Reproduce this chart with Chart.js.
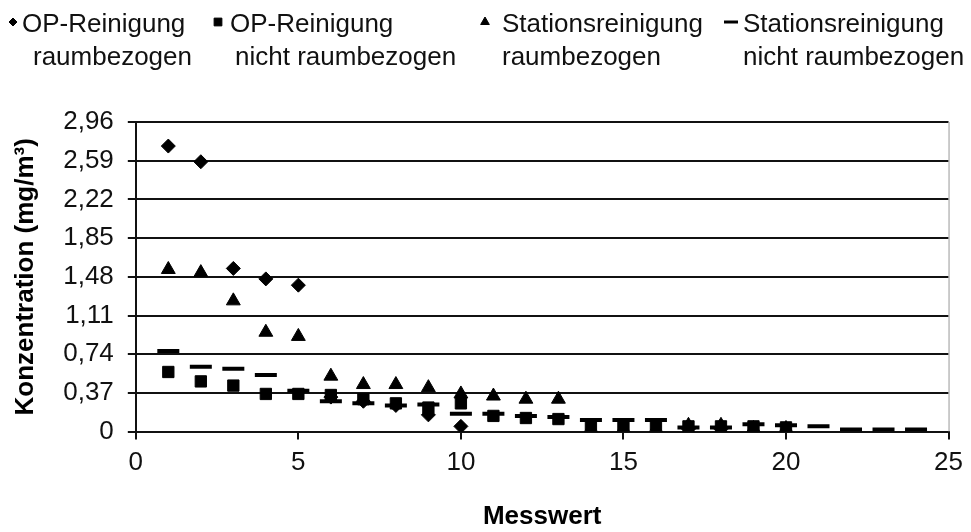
<!DOCTYPE html>
<html>
<head>
<meta charset="utf-8">
<script src="https://cdn.jsdelivr.net/npm/chart.js@4.4.1/dist/chart.umd.min.js"></script>
<style>
  html, body { margin: 0; padding: 0; background: #fff; }
  #wrap { width: 971px; height: 532px; }
</style>
</head>
<body>
<div id="wrap"><canvas id="myChart"></canvas></div>
<script>
// Messwerte (x) und Konzentrationen (mg/m³)
var seriesNames = [
    ['OP-Reinigung', 'raumbezogen'],
    ['OP-Reinigung', 'nicht raumbezogen'],
    ['Stationsreinigung', 'raumbezogen'],
    ['Stationsreinigung', 'nicht raumbezogen']
];

var opRaumX = [1, 2, 3, 4, 5, 6, 7, 8, 9, 10];
var opRaumY = [2.73, 2.58, 1.56, 1.46, 1.40, 0.33, 0.29, 0.25, 0.16, 0.05];

var opNichtX = [1, 2, 3, 4, 5, 6, 7, 8, 9, 10, 11, 12, 13, 14, 15, 16, 17, 18, 19, 20];
var opNichtY = [0.57, 0.48, 0.44, 0.36, 0.36, 0.35, 0.31, 0.27, 0.23, 0.27, 0.15, 0.13, 0.12, 0.07, 0.07, 0.07, 0.05, 0.05, 0.05, 0.04];

var stRaumX = [1, 2, 3, 4, 5, 6, 7, 8, 9, 10, 11, 12, 13, 14, 15, 16, 17, 18, 19, 20];
var stRaumY = [1.55, 1.52, 1.25, 0.95, 0.91, 0.53, 0.45, 0.45, 0.42, 0.36, 0.34, 0.31, 0.31, 0.03, 0.03, 0.03, 0.06, 0.06, 0.03, 0.03];

var stNichtX = [1, 2, 3, 4, 5, 6, 7, 8, 9, 10, 11, 12, 13, 14, 15, 16, 17, 18, 19, 20, 21, 22, 23, 24];
var stNichtY = [0.77, 0.62, 0.60, 0.54, 0.39, 0.29, 0.27, 0.25, 0.26, 0.17, 0.17, 0.15, 0.14, 0.11, 0.11, 0.11, 0.04, 0.04, 0.07, 0.06, 0.05, 0.02, 0.02, 0.02];

var yTicks = [0, 0.37, 0.74, 1.11, 1.48, 1.85, 2.22, 2.59, 2.96];
var yTickLabels = ['0', '0,37', '0,74', '1,11', '1,48', '1,85', '2,22', '2,59', '2,96'];
var xTicks = [0, 5, 10, 15, 20, 25];

function toPoints(xs, ys) {
    return xs.map(function(x, i) { return { x: x, y: ys[i] }; });
}

const FONT = "'Liberation Sans', Arial, sans-serif";
const INK = '#111';

// Legende oben, zweizeilig, mit eigenen Symbolen
const legendPlugin = {
    id: 'twoLineLegend',
    afterDraw: function(chart) {
        const ctx = chart.ctx;
        const items = [
            { sym: { pointStyle: 'rectRot', radius: 4, borderWidth: 1 }, sx: 13, tx: [22, 33] },
            { sym: { pointStyle: 'rect', radius: 5.5, borderWidth: 1 }, sx: 218, tx: [230, 235] },
            { sym: { pointStyle: 'triangle', radius: 5, borderWidth: 1 }, sx: 485, tx: [502, 502] },
            { sym: { pointStyle: 'line', radius: 7, borderWidth: 3 }, sx: 731, tx: [743, 743] }
        ];
        ctx.save();
        ctx.font = '26px ' + FONT;
        ctx.textBaseline = 'alphabetic';
        items.forEach(function(it, i) {
            ctx.fillStyle = '#000';
            ctx.strokeStyle = '#000';
            ctx.lineWidth = it.sym.borderWidth;
            Chart.helpers.drawPoint(ctx, it.sym, it.sx, 22);
            ctx.fillStyle = INK;
            ctx.fillText(seriesNames[i][0], it.tx[0], 32);
            ctx.fillText(seriesNames[i][1], it.tx[1], 65);
        });
        ctx.restore();
    }
};

// rechter Rahmen der Zeichenfläche
const borderPlugin = {
    id: 'rightBorder',
    beforeDatasetsDraw: function(chart) {
        const a = chart.chartArea;
        const ctx = chart.ctx;
        ctx.save();
        ctx.strokeStyle = '#999';
        ctx.lineWidth = 1;
        ctx.beginPath();
        ctx.moveTo(a.right + 0.5, a.top);
        ctx.lineTo(a.right + 0.5, a.bottom);
        ctx.stroke();
        ctx.restore();
    }
};

const ctx = document.getElementById('myChart').getContext('2d');
const myChart = new Chart(ctx, {
    type: 'scatter',
    data: {
        datasets: [
            {
                label: seriesNames[0].join(' '),
                data: toPoints(opRaumX, opRaumY),
                pointStyle: 'rectRot',
                pointRadius: 7,
                backgroundColor: '#000',
                borderColor: '#000',
                borderWidth: 1
            },
            {
                label: seriesNames[1].join(' '),
                data: toPoints(opNichtX, opNichtY),
                pointStyle: 'rect',
                pointRadius: 8,
                backgroundColor: '#000',
                borderColor: '#000',
                borderWidth: 1
            },
            {
                label: seriesNames[2].join(' '),
                data: toPoints(stRaumX, stRaumY),
                pointStyle: 'triangle',
                pointRadius: 8,
                backgroundColor: '#000',
                borderColor: '#000',
                borderWidth: 1
            },
            {
                label: seriesNames[3].join(' '),
                data: toPoints(stNichtX, stNichtY),
                pointStyle: 'line',
                pointRadius: 11,
                backgroundColor: '#000',
                borderColor: '#000',
                borderWidth: 4
            }
        ]
    },
    options: {
        responsive: true,
        maintainAspectRatio: false,
        animation: false,
        events: [],
        layout: {
            padding: { top: 122, left: 10, right: 20, bottom: 0 }
        },
        plugins: {
            legend: { display: false },
            tooltip: { enabled: false }
        },
        scales: {
            x: {
                type: 'linear',
                min: 0,
                max: 25,
                afterBuildTicks: function(scale) {
                    scale.ticks = xTicks.map(function(v) { return { value: v }; });
                },
                grid: {
                    drawOnChartArea: false,
                    drawTicks: true,
                    tickLength: 8,
                    color: '#111',
                    lineWidth: 2
                },
                border: { display: true, color: '#111', width: 2 },
                ticks: {
                    color: INK,
                    font: { family: FONT, size: 26 },
                    padding: 8,
                    maxRotation: 0
                },
                title: {
                    display: true,
                    text: 'Messwert',
                    color: '#000',
                    font: { family: FONT, size: 26, weight: 'bold' },
                    padding: { top: 14, bottom: 0 }
                }
            },
            y: {
                type: 'linear',
                min: 0,
                max: 2.96,
                afterBuildTicks: function(scale) {
                    scale.ticks = yTicks.map(function(v) { return { value: v }; });
                },
                grid: {
                    drawTicks: true,
                    tickLength: 8,
                    color: '#111',
                    lineWidth: 2
                },
                border: { display: true, color: '#111', width: 2 },
                ticks: {
                    color: INK,
                    font: { family: FONT, size: 26 },
                    padding: 14,
                    callback: function(value, index) {
                        return yTickLabels[index];
                    }
                },
                title: {
                    display: true,
                    text: 'Konzentration (mg/m³)',
                    color: '#000',
                    font: { family: FONT, size: 26, weight: 'bold' },
                    padding: { top: 0, bottom: 8 }
                }
            }
        }
    },
    plugins: [legendPlugin, borderPlugin]
});
</script>
</body>
</html>
